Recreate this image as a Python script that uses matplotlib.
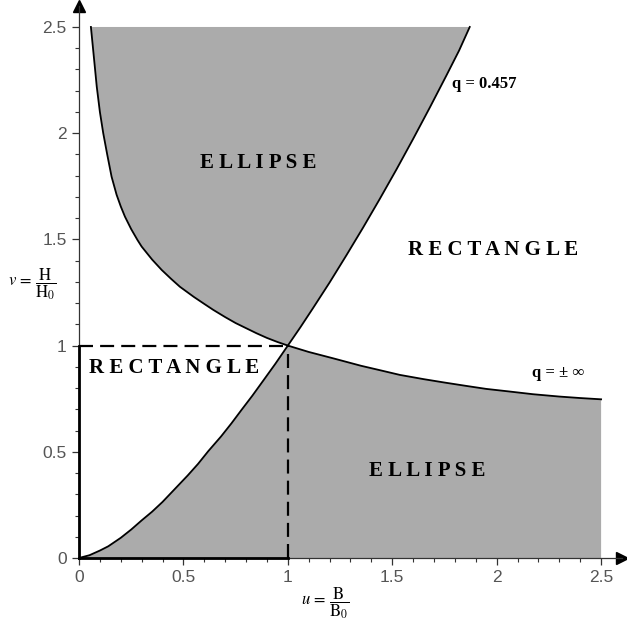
import numpy as np
import matplotlib.pyplot as plt

plt.rcParams['mathtext.fontset'] = 'stix'

# boundary q = 0.457 : through the origin, (1, 1) and up to the top edge
u_q457 = [0.0, 0.05, 0.10, 0.14, 0.20, 0.25, 0.30, 0.35, 0.40, 0.459, 0.52, 0.57,
          0.619, 0.68, 0.73, 0.778, 0.83, 0.88, 0.94, 1.0,
          1.06, 1.121, 1.20, 1.281, 1.36, 1.44, 1.52, 1.60, 1.68, 1.759, 1.82, 1.871]
v_q457 = [0.0, 0.013, 0.035, 0.055, 0.095, 0.134, 0.177, 0.218, 0.264, 0.325, 0.388, 0.443,
          0.503, 0.572, 0.634, 0.697, 0.764, 0.832, 0.914, 1.0,
          1.086, 1.177, 1.297, 1.426, 1.555, 1.690, 1.829, 1.973, 2.121, 2.271, 2.389, 2.50]

# boundary q = +/- infinity : from the top edge down through (1, 1) to u = 2.5
u_qinf = [0.057, 0.065, 0.075, 0.085, 0.10, 0.116, 0.135, 0.156, 0.18, 0.20, 0.22,
          0.25, 0.28, 0.30, 0.35, 0.396, 0.44, 0.483, 0.55, 0.60, 0.643, 0.70, 0.75,
          0.802, 0.85, 0.90, 0.95, 1.0,
          1.1, 1.217, 1.35, 1.45, 1.536, 1.65, 1.75, 1.855, 1.95, 2.05, 2.174, 2.3,
          2.4, 2.5]
v_qinf = [2.50, 2.42, 2.32, 2.219, 2.10, 2.0, 1.90, 1.795, 1.71, 1.655, 1.607,
          1.548, 1.497, 1.466, 1.405, 1.356, 1.315, 1.277, 1.229, 1.196, 1.168, 1.134, 1.106,
          1.081, 1.058, 1.036, 1.017, 1.0,
          0.970, 0.940, 0.905, 0.882, 0.862, 0.842, 0.826, 0.810, 0.796, 0.785, 0.771, 0.760,
          0.753, 0.747]

u_max = 2.5
v_max = 2.5
corner = 1.0

ticks = [0, 0.5, 1, 1.5, 2, 2.5]
tick_labels = ['0', '0.5', '1', '1.5', '2', '2.5']

shade = '#ababab'

fig = plt.figure(figsize=(6.27, 6.29), dpi=100)
ax = fig.add_axes([0.126, 0.1129, 0.866, 0.878])
ax.set_xlim(0, 2.6)
ax.set_ylim(0, 2.6)

u_q457 = np.array(u_q457)
v_q457 = np.array(v_q457)
u_qinf = np.array(u_qinf)
v_qinf = np.array(v_qinf)

# upper ellipse region: left branch of q=inf, right branch of q=0.457, top edge
lo_inf = u_qinf <= corner
hi_457 = u_q457 >= corner
up_u = np.concatenate([u_qinf[lo_inf], u_q457[hi_457]])
up_v = np.concatenate([v_qinf[lo_inf], v_q457[hi_457]])
ax.fill(up_u, up_v, color=shade, lw=0, zorder=1)

# lower ellipse region: q=0.457 up to (1,1), q=inf out to u=2.5, then down to the axis
lo_457 = u_q457 <= corner
hi_inf = u_qinf >= corner
dn_u = np.concatenate([u_q457[lo_457], u_qinf[hi_inf], [u_max, 0.0]])
dn_v = np.concatenate([v_q457[lo_457], v_qinf[hi_inf], [0.0, 0.0]])
ax.fill(dn_u, dn_v, color=shade, lw=0, zorder=1)

ax.plot(u_q457, v_q457, color='black', lw=1.3, zorder=3, solid_joinstyle='round')
ax.plot(u_qinf, v_qinf, color='black', lw=1.3, zorder=3, solid_joinstyle='round')

# rectangle 0 <= u, v <= 1: solid along the axes, dashed on the other two sides
ax.plot([0, corner], [0, 0], color='black', lw=2.0, zorder=4, clip_on=False)
ax.plot([0, 0], [0, corner], color='black', lw=2.0, zorder=4, clip_on=False)
ax.plot([0, corner], [corner, corner], color='black', lw=1.6, dashes=(6.3, 3.2), zorder=4)
ax.plot([corner, corner], [0, corner], color='black', lw=1.6, dashes=(6.3, 3.2), zorder=4)

for s in ['top', 'right']:
    ax.spines[s].set_visible(False)
for s in ['left', 'bottom']:
    ax.spines[s].set_color('#333333')
    ax.spines[s].set_linewidth(0.9)

# arrow heads at the ends of the axes
ax.plot(1, 0, '>', color='black', ms=8, transform=ax.transAxes, clip_on=False)
ax.plot(0, 1, '^', color='black', ms=8, transform=ax.transAxes, clip_on=False)

ax.set_xticks(ticks)
ax.set_xticklabels(tick_labels)
ax.set_yticks(ticks)
ax.set_yticklabels(tick_labels)
ax.set_xticks(np.arange(0, 2.55, 0.1), minor=True)
ax.set_yticks(np.arange(0, 2.55, 0.1), minor=True)
ax.tick_params(which='major', length=5, width=0.9, color='#333333',
               labelsize=12.5, labelcolor='#555555', pad=4)
ax.tick_params(which='minor', length=3, width=0.8, color='#333333')
for lab in ax.get_xticklabels() + ax.get_yticklabels():
    lab.set_family('Liberation Sans')

region_font = dict(family='Liberation Serif', weight='bold', size=15,
                   ha='center', va='center', zorder=5)
ax.text(0.86, 1.86, 'E L L I P S E', **region_font)
ax.text(1.665, 0.41, 'E L L I P S E', **region_font)
ax.text(1.985, 1.45, 'R E C T A N G L E', **region_font)
ax.text(0.453, 0.895, 'R E C T A N G L E', **region_font)

curve_font = dict(family=['Liberation Serif', 'DejaVu Serif'], weight='bold', size=12,
                  ha='left', va='center', zorder=5)
ax.text(1.785, 2.23, 'q = 0.457', **curve_font)
ax.text(2.17, 0.87, 'q = ± ∞', **curve_font)

fig.text(0.012, 0.548, r'$v\,=\,\dfrac{\mathrm{H}}{\mathrm{H_0}}$', fontsize=12,
         ha='left', va='center')
fig.text(0.48, 0.041, r'$u\,=\,\dfrac{\mathrm{B}}{\mathrm{B_0}}$', fontsize=12,
         ha='left', va='center')

fig.savefig('out.png', dpi=100)
